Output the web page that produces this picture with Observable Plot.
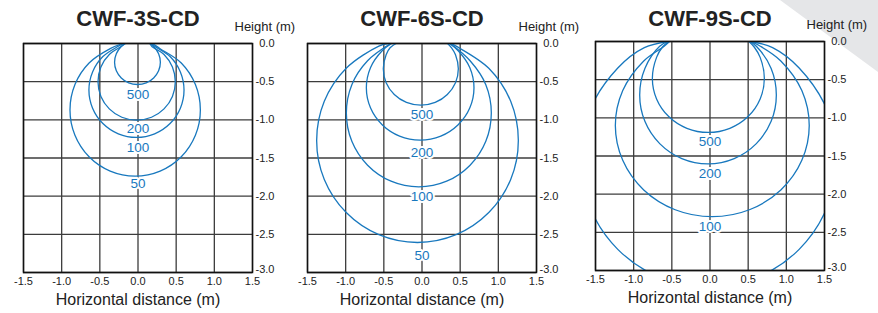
<!DOCTYPE html>
<html><head><meta charset="utf-8">
<script src="https://cdn.jsdelivr.net/npm/d3@7"></script>
<script src="https://cdn.jsdelivr.net/npm/@observablehq/plot@0.6"></script>
<style>
html,body{margin:0;padding:0;background:#fff;}
#root{position:relative;width:878px;height:313px;overflow:hidden;font-family:"Liberation Sans",Arial,sans-serif;}
#tri{position:absolute;left:0;top:0;width:878px;height:313px;background:#e5e6e8;clip-path:polygon(780px 0,878px 0,878px 72px);}
.panel{position:absolute;top:0;}
</style></head><body><div id="root"><div id="tri"></div></div>
<script>
// ---- Data ----
const titles = ["CWF-3S-CD", "CWF-6S-CD", "CWF-9S-CD"];
const levels = [500, 200, 100, 50];
const xTicks = [-1.5, -1.0, -0.5, 0.0, 0.5, 1.0, 1.5];
const xTickLabels = ["-1.5", "-1.0", "-0.5", "0.0", "0.5", "1.0", "1.5"];
const yTicks = [0.0, -0.5, -1.0, -1.5, -2.0, -2.5, -3.0];
const yTickLabels = ["0.0", "-0.5", "-1.0", "-1.5", "-2.0", "-2.5", "-3.0"];

// label heights (m) for 500, 200, 100, 50
const labelY3S = [-0.668, -1.11, -1.37, -1.84];
const labelY6S = [-0.926, -1.432, -2.009, -2.786];
const labelY9S = [-1.318, -1.735, -2.422];

// CWF-3S-CD isolux curves [x (m), height (m)]
const c3s500 = [[-0.165,0],[-0.219,-0.039],[-0.284,-0.133],[-0.307,-0.245],[-0.284,-0.357],[-0.219,-0.451],[-0.122,-0.515],[-0.007,-0.537],[0.108,-0.515],[0.205,-0.451],[0.270,-0.357],[0.293,-0.245],[0.270,-0.133],[0.205,-0.039],[0.15,0]];
const c3s200 = [[-0.17,0],[-0.212,-0.034],[-0.376,-0.144],[-0.486,-0.307],[-0.524,-0.50],[-0.486,-0.693],[-0.376,-0.856],[-0.212,-0.966],[-0.018,-1.004],[0.177,-0.966],[0.341,-0.856],[0.451,-0.693],[0.489,-0.50],[0.451,-0.307],[0.341,-0.144],[0.177,-0.034],[0.16,0]];
const c3s100 = [[-0.19,0],[-0.258,-0.036],[-0.460,-0.171],[-0.595,-0.372],[-0.643,-0.61],[-0.595,-0.848],[-0.460,-1.049],[-0.258,-1.184],[-0.02,-1.231],[0.218,-1.184],[0.420,-1.049],[0.555,-0.848],[0.603,-0.61],[0.555,-0.372],[0.420,-0.171],[0.218,-0.036],[0.18,0]];
const c3s50 = [[-0.2,0],[-0.364,-0.068],[-0.641,-0.256],[-0.826,-0.538],[-0.891,-0.87],[-0.826,-1.202],[-0.641,-1.484],[-0.364,-1.672],[-0.037,-1.738],[0.290,-1.672],[0.567,-1.484],[0.752,-1.202],[0.817,-0.87],[0.752,-0.538],[0.567,-0.256],[0.290,-0.068],[0.19,0]];

// CWF-6S-CD
const c6s500 = [[-0.34,0],[-0.418,-0.056],[-0.470,-0.147],[-0.507,-0.33],[-0.470,-0.513],[-0.363,-0.668],[-0.204,-0.772],[-0.016,-0.808],[0.173,-0.772],[0.332,-0.668],[0.439,-0.513],[0.476,-0.33],[0.439,-0.147],[0.387,-0.056],[0.335,0]];
const c6s200 = [[-0.40,0],[-0.522,-0.095],[-0.675,-0.317],[-0.729,-0.58],[-0.675,-0.843],[-0.522,-1.065],[-0.294,-1.214],[-0.024,-1.266],[0.246,-1.214],[0.474,-1.065],[0.627,-0.843],[0.681,-0.58],[0.627,-0.317],[0.474,-0.095],[0.36,0]];
const c6s100 = [[-0.41,0],[-0.713,-0.226],[-0.919,-0.539],[-0.991,-0.91],[-0.919,-1.281],[-0.713,-1.594],[-0.406,-1.804],[-0.042,-1.878],[0.323,-1.804],[0.630,-1.594],[0.836,-1.281],[0.908,-0.91],[0.836,-0.539],[0.630,-0.226],[0.37,0]];
const c6s50 = [[-0.45,0],[-0.565,-0.035],[-0.993,-0.325],[-1.280,-0.758],[-1.380,-1.27],[-1.280,-1.782],[-0.993,-2.215],[-0.565,-2.505],[-0.059,-2.607],[0.447,-2.505],[0.875,-2.215],[1.162,-1.782],[1.262,-1.27],[1.162,-0.758],[0.875,-0.325],[0.447,-0.035],[0.38,0]];

// CWF-9S-CD
const c9s500 = [[-0.54,0],[-0.622,-0.072],[-0.700,-0.208],[-0.755,-0.48],[-0.700,-0.752],[-0.541,-0.983],[-0.303,-1.137],[-0.022,-1.191],[0.260,-1.137],[0.498,-0.983],[0.657,-0.752],[0.712,-0.48],[0.657,-0.208],[0.579,-0.072],[0.51,0]];
const c9s200 = [[-0.55,0],[-0.659,-0.062],[-0.853,-0.354],[-0.921,-0.70],[-0.853,-1.046],[-0.659,-1.338],[-0.369,-1.534],[-0.026,-1.603],[0.317,-1.534],[0.607,-1.338],[0.801,-1.046],[0.869,-0.70],[0.801,-0.354],[0.607,-0.062],[0.52,0]];
const c9s100 = [[-0.53,0],[-0.605,-0.065],[-0.868,-0.255],[-1.143,-0.643],[-1.24,-1.1],[-1.143,-1.557],[-0.868,-1.945],[-0.456,-2.204],[0.03,-2.295],[0.516,-2.204],[0.928,-1.945],[1.203,-1.557],[1.30,-1.1],[1.203,-0.643],[0.928,-0.255],[0.665,-0.065],[0.53,0]];
const c9s50 = [[-0.55,0],[-0.86,-0.08],[-1.208,-0.347],[-1.572,-0.892],[-1.70,-1.535],[-1.572,-2.178],[-1.208,-2.723],[-0.663,-3.087],[-0.02,-3.215],[0.623,-3.087],[1.168,-2.723],[1.532,-2.178],[1.66,-1.535],[1.532,-0.892],[1.168,-0.347],[0.82,-0.08],[0.54,0]];

// ---- Build ----
const blue = "#1878be";
const font = '"Liberation Sans", Arial, sans-serif';
const panels = [
  {title: titles[0], curves: [c3s500, c3s200, c3s100, c3s50], labelY: labelY3S, left: 0, top: 43},
  {title: titles[1], curves: [c6s500, c6s200, c6s100, c6s50], labelY: labelY6S, left: 284, top: 43},
  {title: titles[2], curves: [c9s500, c9s200, c9s100, c9s50], labelY: labelY9S, left: 572, top: 41}
];

const root = document.getElementById("root");
panels.forEach((p) => {
  const lineData = p.curves.flatMap((pts, k) => pts.map(([x, y]) => ({level: levels[k], x, y})));
  const labelData = p.labelY.map((y, k) => ({x: 0, y, text: String(levels[k])}));
  const inner = 229;
  const yMain = yTicks.slice(0, -1);
  const svg = Plot.plot({
    width: 292, height: 313,
    marginLeft: 23, marginRight: 40, marginTop: p.top, marginBottom: 313 - p.top - inner,
    x: {domain: [-1.5, 1.5], axis: null},
    y: {domain: [-3, 0], axis: null},
    style: {background: "transparent", overflow: "visible", fontFamily: font, color: "#222"},
    marks: [
      Plot.ruleX(xTicks, {stroke: "#3c3c3c", strokeWidth: 1.3}),
      Plot.ruleY(yTicks, {stroke: "#3c3c3c", strokeWidth: 1.3}),
      Plot.line(lineData, {x: "x", y: "y", z: "level", curve: "catmull-rom", stroke: blue, strokeWidth: 1.3, clip: true}),
      Plot.text(labelData, {x: "x", y: "y", text: "text", fill: blue, stroke: "white", strokeWidth: 4, fontSize: 13.5}),
      Plot.frame({stroke: "#111", strokeWidth: 1.5}),
      Plot.text(yMain, {y: d => d, text: (d, i) => yTickLabels[i], frameAnchor: "right", dx: 22, textAnchor: "end", lineAnchor: "middle", fontSize: 11, fill: "#222"}),
      Plot.text([yTicks[6]], {y: d => d, text: () => yTickLabels[6], frameAnchor: "right", dx: 22, dy: -3, textAnchor: "end", lineAnchor: "middle", fontSize: 11, fill: "#222"}),
      Plot.text(xTicks, {x: d => d, text: (d, i) => xTickLabels[i], frameAnchor: "bottom", dy: 8.5, lineAnchor: "middle", fontSize: 11, fill: "#222"}),
      Plot.text([p.title], {frameAnchor: "top", dy: 18.7 - p.top, lineAnchor: "middle", fontSize: 22, fontWeight: "bold", fill: "#222"}),
      Plot.text(["Height (m)"], {frameAnchor: "top-right", dx: -18, dy: 26 - 43, textAnchor: "start", lineAnchor: "middle", fontSize: 13, fill: "#222"}),
      Plot.text(["Horizontal distance (m)"], {frameAnchor: "bottom", dy: 27.5, lineAnchor: "middle", fontSize: 16, fill: "#222"})
    ]
  });
  svg.classList.add("panel");
  svg.style.left = p.left + "px";
  root.appendChild(svg);
});
</script>
</body></html>
